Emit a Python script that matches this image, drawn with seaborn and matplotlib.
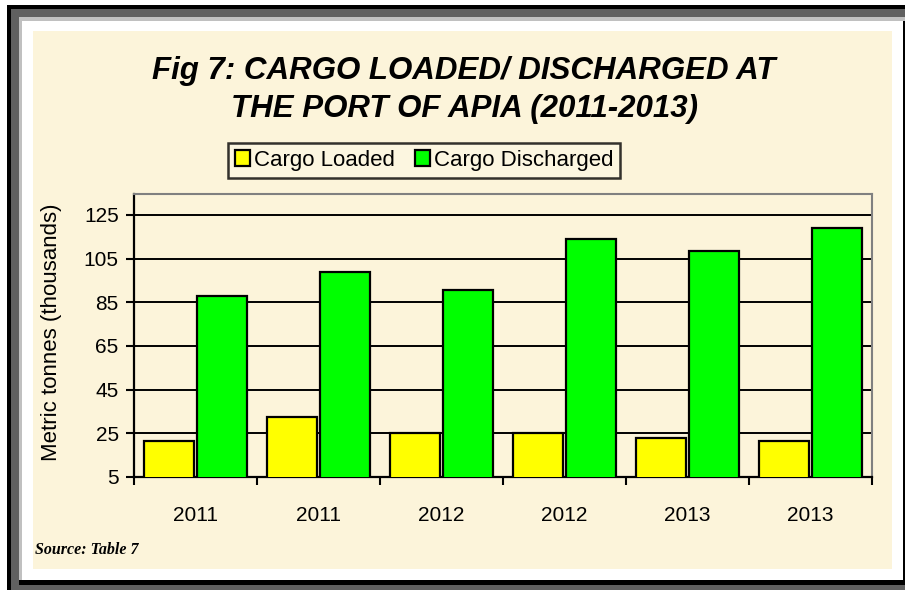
import matplotlib
matplotlib.use("Agg")
import matplotlib.pyplot as plt
import seaborn as sns
import pandas as pd
from matplotlib.patches import Rectangle

# ---- data ----
period_keys = [0, 1, 2, 3, 4, 5]
year_labels = ["2011", "2011", "2012", "2012", "2013", "2013"]
cargo_loaded = [21.6, 32.3, 25.0, 25.0, 22.7, 21.6]
cargo_discharged = [88.0, 98.9, 90.6, 114.1, 108.5, 119.2]
series_names = ["Cargo Loaded", "Cargo Discharged"]
series_colors = ["#FFFF00", "#00FF00"]
y_ticks = [5, 25, 45, 65, 85, 105, 125]

df = pd.DataFrame({
    "period": period_keys * 2,
    "series": [series_names[0]] * 6 + [series_names[1]] * 6,
    "value": cargo_loaded + cargo_discharged,
})

sns.set_theme(style="white")
plt.rcParams["font.family"] = ["Liberation Sans", "DejaVu Sans"]
plt.rcParams["text.color"] = "black"
plt.rcParams["axes.labelcolor"] = "black"
plt.rcParams["xtick.color"] = "black"
plt.rcParams["ytick.color"] = "black"

W, H = 905, 590
fig = plt.figure(figsize=(W / 100, H / 100), dpi=100)
fig.patch.set_facecolor("white")

def frect(x0, y0, x1, y1, color, z):
    fig.patches.append(Rectangle((x0 / W, 1 - y1 / H), (x1 - x0) / W, (y1 - y0) / H,
                                 transform=fig.transFigure, facecolor=color,
                                 edgecolor="none", zorder=z))

frect(7, 5, 905, 590, "black", -10)
frect(11, 9, 905, 590, "#606060", -9)
frect(19, 17, 905, 585, "black", -8)
frect(19, 17, 903, 580, "#C0C0C0", -7)
frect(903, 17, 905, 21, "#C0C0C0", -7)
frect(22, 21, 903, 580, "white", -6)
frect(33, 31, 892, 569, "#FCF4DA", -5)

ax = fig.add_axes([134 / W, 1 - 477 / H, (872 - 134) / W, (477 - 194) / H])
ax.set_facecolor("none")

sns.barplot(data=df, x="period", y="value", hue="series", order=period_keys,
            hue_order=series_names, palette=series_colors, width=0.86, gap=0.06,
            edgecolor="black", linewidth=1.6, saturation=1, ax=ax, zorder=3,
            errorbar=None, legend=True)

ax.set_xlim(-0.5, 5.5)
ax.set_ylim(5, 134.6)
ax.set_yticks(y_ticks)
ax.set_yticklabels([str(t) for t in y_ticks], fontsize=15)
ax.yaxis.grid(True, color="black", linewidth=1.4, zorder=0)
ax.set_axisbelow(True)

ax.set_xticks(period_keys)
ax.set_xticklabels(year_labels, fontsize=15)
ax.tick_params(axis="x", length=0, pad=21)
ax.set_xticks([k - 0.5 for k in period_keys] + [5.5], minor=True)
ax.tick_params(axis="x", which="minor", length=6, width=1.5, color="black", direction="out", bottom=True)
ax.tick_params(axis="y", length=6, width=1.5, color="black", direction="out", left=True, pad=5)

for side in ["left", "bottom"]:
    ax.spines[side].set_color("black")
    ax.spines[side].set_linewidth(1.6)
for side in ["top", "right"]:
    ax.spines[side].set_color("#808080")
    ax.spines[side].set_linewidth(1.5)

ax.set_xlabel("")
ax.set_ylabel("Metric tonnes (thousands)", fontsize=16)
ax.yaxis.set_label_coords((62 - 134) / (872 - 134), (477 - 332) / (477 - 194))

leg = ax.legend(loc="center", bbox_to_anchor=((424 - 134) / (872 - 134), (477 - 160.5) / (477 - 194)),
                ncol=2, frameon=True, fontsize=16, handlelength=0.7, handleheight=0.7,
                handletextpad=0.15, columnspacing=0.9, borderpad=0.3, borderaxespad=0,
                fancybox=False)
leg.get_frame().set_edgecolor("black")
leg.get_frame().set_linewidth(1.8)
leg.get_frame().set_facecolor("#FDF7E2")

fig.text(464 / W, 1 - 71 / H, "Fig 7: CARGO LOADED/ DISCHARGED AT", ha="center", va="center",
         fontsize=22.5, fontweight="bold", fontstyle="italic")
fig.text(464 / W, 1 - 109 / H, "THE PORT OF APIA (2011-2013)", ha="center", va="center",
         fontsize=22.5, fontweight="bold", fontstyle="italic")
fig.text(35 / W, 1 - 550 / H, "Source: Table 7", ha="left", va="center",
         fontsize=11.5, fontweight="bold", fontstyle="italic", family=["Liberation Serif", "DejaVu Serif"])

fig.savefig("out.png", dpi=100, facecolor=fig.get_facecolor())
